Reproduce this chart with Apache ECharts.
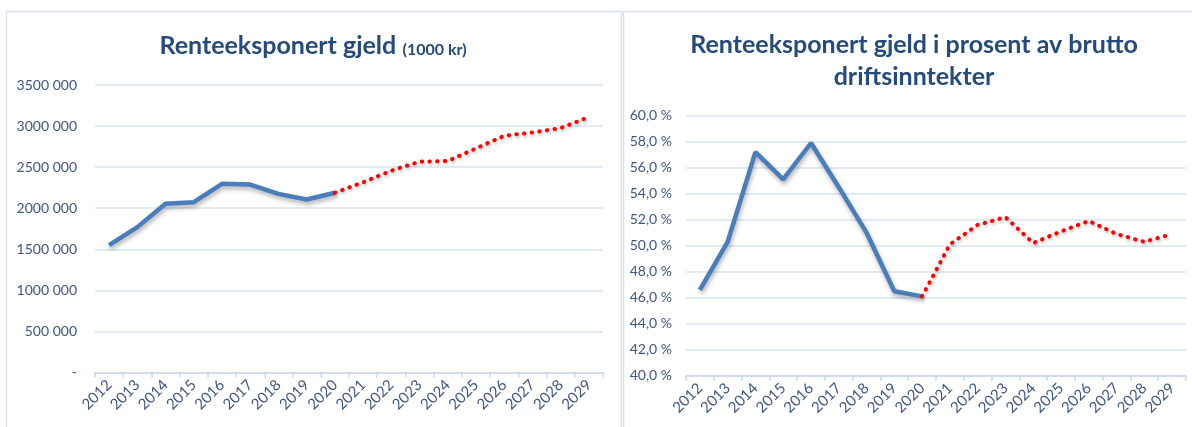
<!DOCTYPE html>
<html>
<head>
<meta charset="utf-8">
<script src="https://cdn.jsdelivr.net/npm/echarts@6/dist/echarts.min.js"></script>
<style>
  html, body { margin: 0; padding: 0; background: #fff; }
  #chart { width: 1192px; height: 427px; }
</style>
</head>
<body>
<div id="chart"></div>
<script>
// år på x-aksen
var years = ['2012', '2013', '2014', '2015', '2016', '2017', '2018', '2019', '2020',
  '2021', '2022', '2023', '2024', '2025', '2026', '2027', '2028', '2029']

// renteeksponert gjeld (1000 kr), faktisk 2012-2020 og prognose 2020-2029
var gjeldFaktisk = [1550000, 1770000, 2055000, 2073000, 2297000, 2288000, 2175000, 2106000, 2188000]
var gjeldPrognose = [2188000, 2316000, 2457000, 2567000, 2575000, 2728000, 2882000, 2922000, 2976000, 3110000]

// i prosent av brutto driftsinntekter
var prosentFaktisk = [46.6, 50.3, 57.2, 55.1, 57.9, 54.5, 51.0, 46.5, 46.1]
var prosentPrognose = [46.1, 50.1, 51.6, 52.2, 50.2, 51.1, 51.9, 50.9, 50.3, 50.9]

// aksetekster
var gjeldTicks = ['-', '500 000', '1000 000', '1500 000', '2000 000', '2500 000', '3000 000', '3500 000']
var prosentTicks = ['40,0 %', '42,0 %', '44,0 %', '46,0 %', '48,0 %', '50,0 %', '52,0 %', '54,0 %', '56,0 %', '58,0 %', '60,0 %']

var FONT = 'Lato, "Open Sans", sans-serif'
var labelColor = '#3f5682'
var titleColor = '#254a7c'
var gridColor = '#d9e3f0'

// faktisk: fyll ut med null etter 2020, prognose: null før 2020
function padEnd (arr) {
  return arr.concat(new Array(years.length - arr.length).fill(null))
}
function padStart (arr) {
  return new Array(years.length - arr.length).fill(null).concat(arr)
}

function xAxis (gridIndex) {
  return {
    type: 'category',
    gridIndex: gridIndex,
    data: years,
    boundaryGap: true,
    axisLine: { lineStyle: { color: '#cbd8ea', width: 1.5 } },
    axisTick: { show: true, length: 5, lineStyle: { color: '#cbd8ea', width: 1.5 } },
    axisLabel: { rotate: 45, margin: 10, color: labelColor, fontFamily: FONT, fontSize: 15, interval: 0 }
  }
}

var solid = {
  type: 'line',
  symbol: 'none',
  smooth: false,
  connectNulls: false,
  lineStyle: {
    color: '#4a7ebb',
    width: 4.5,
    shadowColor: 'rgba(0,0,0,0.3)',
    shadowBlur: 4,
    shadowOffsetX: 1,
    shadowOffsetY: 3
  },
  z: 3
}
var dotted = {
  type: 'line',
  symbol: 'none',
  lineStyle: {
    color: '#ff0000',
    width: 4,
    type: [0.5, 7.2],
    cap: 'round',
    shadowColor: 'rgba(0,0,0,0.25)',
    shadowBlur: 3,
    shadowOffsetX: 1,
    shadowOffsetY: 2
  },
  z: 4
}

var myChart = echarts.init(document.getElementById('chart'))
var option = {
  animation: false,
  backgroundColor: '#fff',
  grid: [
    { left: 95, right: 589, top: 85, bottom: 54.5 },
    { left: 686, right: 6, top: 115.7, bottom: 51.3 }
  ],
  xAxis: [xAxis(0), xAxis(1)],
  yAxis: [
    {
      type: 'value',
      gridIndex: 0,
      min: 0,
      max: 3500000,
      interval: 500000,
      axisLine: { show: false },
      axisTick: { show: false },
      splitLine: { lineStyle: { color: gridColor, width: 1.5 } },
      axisLabel: {
        margin: 18,
        color: labelColor,
        fontFamily: FONT,
        fontSize: 14,
        formatter: function (v) { return gjeldTicks[Math.round(v / 500000)] }
      }
    },
    {
      type: 'value',
      gridIndex: 1,
      min: 40,
      max: 60,
      interval: 2,
      axisLine: { show: false },
      axisTick: { show: false },
      splitLine: { lineStyle: { color: gridColor, width: 1.5 } },
      axisLabel: {
        margin: 14,
        color: labelColor,
        fontFamily: FONT,
        fontSize: 14,
        formatter: function (v) { return prosentTicks[Math.round((v - 40) / 2)] }
      }
    }
  ],
  series: [
    Object.assign({}, solid, { xAxisIndex: 0, yAxisIndex: 0, data: padEnd(gjeldFaktisk) }),
    Object.assign({}, dotted, { xAxisIndex: 0, yAxisIndex: 0, data: padStart(gjeldPrognose) }),
    Object.assign({}, solid, { xAxisIndex: 1, yAxisIndex: 1, data: padEnd(prosentFaktisk) }),
    Object.assign({}, dotted, { xAxisIndex: 1, yAxisIndex: 1, data: padStart(prosentPrognose) })
  ],
  graphic: [
    // rammer rundt de to diagrammene
    { type: 'rect', shape: { x: 6.5, y: 11.5, width: 615, height: 430 }, style: { fill: 'none', stroke: '#d6e0ee', lineWidth: 1.5 }, silent: true },
    { type: 'rect', shape: { x: 623.5, y: 11.5, width: 580, height: 430 }, style: { fill: 'none', stroke: '#d6e0ee', lineWidth: 1.5 }, silent: true },
    {
      type: 'text',
      x: 313,
      y: 46,
      style: {
        text: '{a|Renteeksponert gjeld} {b|(1000 kr)}',
        align: 'center',
        verticalAlign: 'middle',
        rich: {
          a: { fontFamily: FONT, fontWeight: 'bold', fontSize: 25, fill: titleColor, color: titleColor },
          b: { fontFamily: FONT, fontWeight: 'bold', fontSize: 16, fill: titleColor, color: titleColor, padding: [7, 0, 0, 3] }
        }
      }
    },
    {
      type: 'text',
      x: 914,
      y: 61,
      style: {
        text: 'Renteeksponert gjeld i prosent av brutto\ndriftsinntekter',
        align: 'center',
        verticalAlign: 'middle',
        lineHeight: 32,
        fontFamily: FONT,
        fontWeight: 'bold',
        fontSize: 25,
        fill: titleColor
      }
    }
  ]
}
myChart.setOption(option)
</script>
</body>
</html>
